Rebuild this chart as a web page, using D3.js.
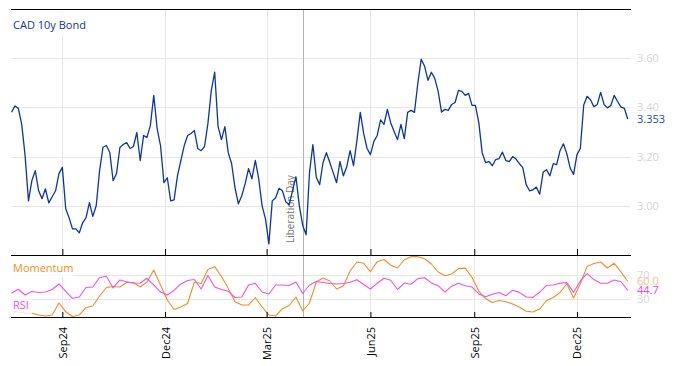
<!DOCTYPE html>
<html>
<head>
<meta charset="utf-8">
<script src="https://cdn.jsdelivr.net/npm/d3@7"></script>
<style>
  body { margin: 0; background: #fff; }
  text { font-family: "Open Sans", "Noto Sans", sans-serif; }
</style>
</head>
<body>
<script>
// sampling: bond every 3 days, indicators every 6 days, from 18 Jul 2024
const startDate = new Date(Date.UTC(2024, 6, 18));
const bondStep = 3;
const indStep = 6;

const bondValues = [
  3.380, 3.406, 3.396, 3.331, 3.204, 3.020, 3.102, 3.143, 3.061, 3.029,
  3.069, 3.012, 3.037, 3.061, 3.131, 3.156, 2.988, 2.951, 2.906, 2.906,
  2.890, 2.931, 2.952, 3.013, 2.957, 3.000, 3.143, 3.238, 3.245, 3.218,
  3.102, 3.131, 3.237, 3.249, 3.257, 3.233, 3.241, 3.298, 3.184, 3.286,
  3.278, 3.327, 3.449, 3.314, 3.245, 3.094, 3.114, 3.020, 3.024, 3.122,
  3.184, 3.245, 3.286, 3.294, 3.306, 3.233, 3.224, 3.241, 3.335, 3.469,
  3.543, 3.322, 3.269, 3.322, 3.216, 3.171, 3.073, 3.008, 3.041, 3.090,
  3.151, 3.110, 3.185, 3.110, 3.000, 2.947, 2.845, 3.020, 3.033, 3.071,
  3.061, 3.016, 3.004, 3.063, 3.118, 3.000, 2.920, 2.882, 3.135, 3.249,
  3.116, 3.086, 3.176, 3.216, 3.176, 3.135, 3.094, 3.180, 3.122, 3.159,
  3.224, 3.163, 3.265, 3.380, 3.294, 3.233, 3.208, 3.261, 3.286, 3.349,
  3.331, 3.392, 3.337, 3.302, 3.269, 3.331, 3.273, 3.380, 3.388, 3.380,
  3.498, 3.596, 3.567, 3.510, 3.543, 3.518, 3.465, 3.381, 3.392, 3.388,
  3.412, 3.420, 3.469, 3.465, 3.449, 3.457, 3.408, 3.408, 3.339, 3.216,
  3.176, 3.180, 3.163, 3.188, 3.192, 3.218, 3.184, 3.180, 3.200, 3.190,
  3.171, 3.155, 3.086, 3.061, 3.065, 3.076, 3.047, 3.136, 3.147, 3.122,
  3.171, 3.167, 3.224, 3.252, 3.212, 3.153, 3.128, 3.208, 3.233, 3.410,
  3.445, 3.431, 3.403, 3.412, 3.461, 3.412, 3.398, 3.408, 3.449, 3.424,
  3.401, 3.396, 3.353
];

const momentumValues = [
  10.1, 8.4, 6.7, 6.2, 3.4, 1.7, 3.4, 23.5, 8.9, 0.8,
  3.4, 15.9, 18.5, 35.2, 49.5, 51.2, 50.3, 57.9, 57.9, 50.3,
  58.7, 78.9, 53.7, 28.5, 12.6, 16.8, 22.7, 58.7, 56.2, 79.7,
  84.4, 68.0, 48.2, 25.7, 20.1, 20.1, 32.7, 16.8, 3.4, 1.7,
  13.9, 19.3, 33.6, 10.1, 23.5, 58.7, 65.4, 60.4, 47.0, 52.0,
  77.2, 92.3, 90.1, 76.0, 92.8, 96.5, 86.9, 82.2, 96.0, 101.2,
  101.2, 97.7, 88.9, 75.5, 69.3, 72.1, 81.2, 82.0, 66.3, 43.6,
  31.0, 24.3, 27.7, 25.7, 21.8, 16.8, 9.6, 8.4, 13.4, 27.7,
  32.7, 41.1, 55.4, 31.9, 56.2, 84.7, 89.8, 92.3, 82.2, 90.1,
  75.8, 60.0
];

const rsiValues = [
  39.8, 46.5, 36.9, 42.8, 41.1, 41.9, 46.1, 55.4, 42.8, 31.4,
  33.6, 49.5, 50.3, 66.3, 68.3, 48.7, 62.1, 59.2, 56.5, 57.0,
  64.9, 53.7, 41.9, 36.9, 44.5, 55.4, 61.2, 62.9, 47.0, 69.6,
  50.3, 46.1, 43.1, 32.7, 33.6, 53.7, 56.5, 41.9, 38.6, 53.7,
  53.7, 52.9, 58.7, 39.4, 53.7, 59.6, 57.9, 56.2, 55.4, 56.2,
  58.2, 62.6, 54.5, 47.0, 56.5, 64.9, 61.6, 46.1, 56.9, 54.9,
  64.3, 65.9, 57.2, 52.5, 41.8, 51.7, 56.5, 52.5, 50.3, 38.6,
  34.1, 38.3, 41.1, 35.6, 45.0, 41.3, 33.6, 32.9, 41.6, 53.2,
  53.7, 56.5, 57.7, 41.4, 60.4, 72.8, 62.8, 56.7, 56.7, 62.1,
  59.1, 44.7
];

const tickDates = ["2024-09-01", "2024-12-01", "2025-03-01", "2025-06-01", "2025-09-01", "2025-12-01"];
const bondTicks = [3.0, 3.2, 3.4, 3.6];
const indTicks = [30, 70];
const eventDate = "2025-04-02";
const eventLabel = "Liberation Day";

const W = 674, H = 366;
const left = 11, right = 630;
const topY = 9, midY = 255, botY = 317;

const blue = "#0a36a0", orange = "#f98b22", pink = "#f550dc";

const svg = d3.select("body").append("svg")
  .attr("width", W)
  .attr("height", H);

const x = d3.scaleUtc()
  .domain([new Date(Date.UTC(2024, 6, 17, 12)), new Date(Date.UTC(2026, 0, 17))])
  .range([left, right]);

const yBond = d3.scaleLinear().domain([2.8, 3.8]).range([midY, topY]);
const yInd = d3.scaleLinear().domain([0, 104]).range([botY, midY]);

const bond = bondValues.map((v, i) => ({date: d3.utcDay.offset(startDate, i * bondStep), v}));
const mom = momentumValues.map((v, i) => ({date: d3.utcDay.offset(startDate, i * indStep), v}));
const rsi = rsiValues.map((v, i) => ({date: d3.utcDay.offset(startDate, i * indStep), v}));
const ticks = tickDates.map(d => new Date(d + "T00:00:00Z"));

// gridlines
const grid = svg.append("g").attr("stroke", "#e6e6e6").attr("stroke-width", 1);
grid.selectAll(".vg").data(ticks).enter().append("line")
  .attr("x1", d => Math.round(x(d)) + 0.5).attr("x2", d => Math.round(x(d)) + 0.5)
  .attr("y1", topY).attr("y2", botY);
grid.selectAll(".hb").data(bondTicks).enter().append("line")
  .attr("x1", left).attr("x2", right)
  .attr("y1", d => Math.round(yBond(d)) + 0.5).attr("y2", d => Math.round(yBond(d)) + 0.5);
grid.selectAll(".hi").data(indTicks).enter().append("line")
  .attr("x1", left).attr("x2", right)
  .attr("y1", d => Math.round(yInd(d)) + 0.5).attr("y2", d => Math.round(yInd(d)) + 0.5);

// event line
const ex = Math.round(x(new Date(eventDate + "T00:00:00Z"))) + 0.5;
svg.append("line")
  .attr("x1", ex).attr("x2", ex).attr("y1", topY).attr("y2", botY)
  .attr("stroke", "#b4b4b4").attr("stroke-width", 1);
svg.append("text")
  .attr("transform", `translate(${ex - 10},243) rotate(-90)`)
  .attr("font-size", 10)
  .attr("fill", "#777")
  .text(eventLabel);

// series
const bondLine = d3.line().x(d => x(d.date)).y(d => yBond(d.v));
const indLine = d3.line().x(d => x(d.date)).y(d => yInd(d.v));

svg.append("path").datum(bond)
  .attr("d", bondLine)
  .attr("fill", "none").attr("stroke", blue).attr("stroke-width", 1.3)
  .attr("stroke-linejoin", "round");

svg.append("path").datum(mom)
  .attr("d", indLine)
  .attr("fill", "none").attr("stroke", orange).attr("stroke-width", 1.1)
  .attr("stroke-linejoin", "round");
svg.append("path").datum(rsi)
  .attr("d", indLine)
  .attr("fill", "none").attr("stroke", pink).attr("stroke-width", 1.1)
  .attr("stroke-linejoin", "round");

// panel borders
[topY, midY, botY].forEach(yy => {
  svg.append("line")
    .attr("x1", left).attr("x2", right + 1).attr("y1", yy + 0.5).attr("y2", yy + 0.5)
    .attr("stroke", "#000").attr("stroke-width", 1.2);
});

// ticks (pointing up into each panel)
const xTop = d3.axisBottom(x).tickValues(ticks).tickSize(-6).tickFormat("");
svg.append("g").attr("transform", `translate(0,${midY})`).call(xTop)
  .call(g => g.select(".domain").remove())
  .call(g => g.selectAll(".tick line").attr("stroke", "#000"));

const xBot = d3.axisBottom(x).tickValues(ticks).tickSize(-5).tickFormat(d3.utcFormat("%b%y"));
svg.append("g").attr("transform", `translate(0,${botY})`).call(xBot)
  .call(g => g.select(".domain").remove())
  .call(g => g.selectAll(".tick line").attr("stroke", "#000"))
  .call(g => g.selectAll(".tick text")
    .attr("font-family", "'Open Sans', sans-serif")
    .attr("font-size", 11)
    .attr("fill", "#000")
    .attr("text-anchor", "end")
    .attr("transform", "translate(4,10) rotate(-90)")
    .attr("dy", 0).attr("x", 0).attr("y", 0));

// y labels
const yr = d3.axisRight(yBond).tickValues(bondTicks).tickSize(0).tickPadding(7).tickFormat(d3.format(".2f"));
svg.append("g").attr("transform", `translate(${right},0)`).call(yr)
  .call(g => g.select(".domain").remove())
  .call(g => g.selectAll("text").attr("fill", "#d4d4d4").attr("font-size", 11)
    .attr("font-family", "'Open Sans', sans-serif"));

const yi = d3.axisRight(yInd).tickValues(indTicks).tickSize(0).tickPadding(7);
svg.append("g").attr("transform", `translate(${right},0)`).call(yi)
  .call(g => g.select(".domain").remove())
  .call(g => g.selectAll("text").attr("fill", "#dadada").attr("font-size", 11)
    .attr("font-family", "'Open Sans', sans-serif"));

// last value labels
const lastLabel = (yy, txt, col) => svg.append("text")
  .attr("x", right + 7).attr("y", yy).attr("dy", "0.35em")
  .attr("font-size", 11).attr("fill", col).text(txt);
lastLabel(yBond(bondValues[bondValues.length - 1]), "3.353", "#2446a8");
lastLabel(yInd(momentumValues[momentumValues.length - 1]), "60.0", "#fcc08a");
lastLabel(yInd(rsiValues[rsiValues.length - 1]), "44.7", "#ee45dc");

// panel titles with white boxes
const title = (x0, y0, w, h, txt, col, base) => {
  svg.append("rect").attr("x", x0).attr("y", y0).attr("width", w).attr("height", h)
    .attr("fill", "#fff").attr("fill-opacity", 0.75);
  svg.append("text").attr("x", 13).attr("y", base)
    .attr("font-size", 11).attr("fill", col).text(txt);
};
title(left, topY + 1, 76, 26, "CAD 10y Bond", blue, 29);
title(left, midY + 2, 63, 20, "Momentum", orange, 272);
title(left, 297, 21, 19, "RSI", pink, 309);
</script>
</body>
</html>
